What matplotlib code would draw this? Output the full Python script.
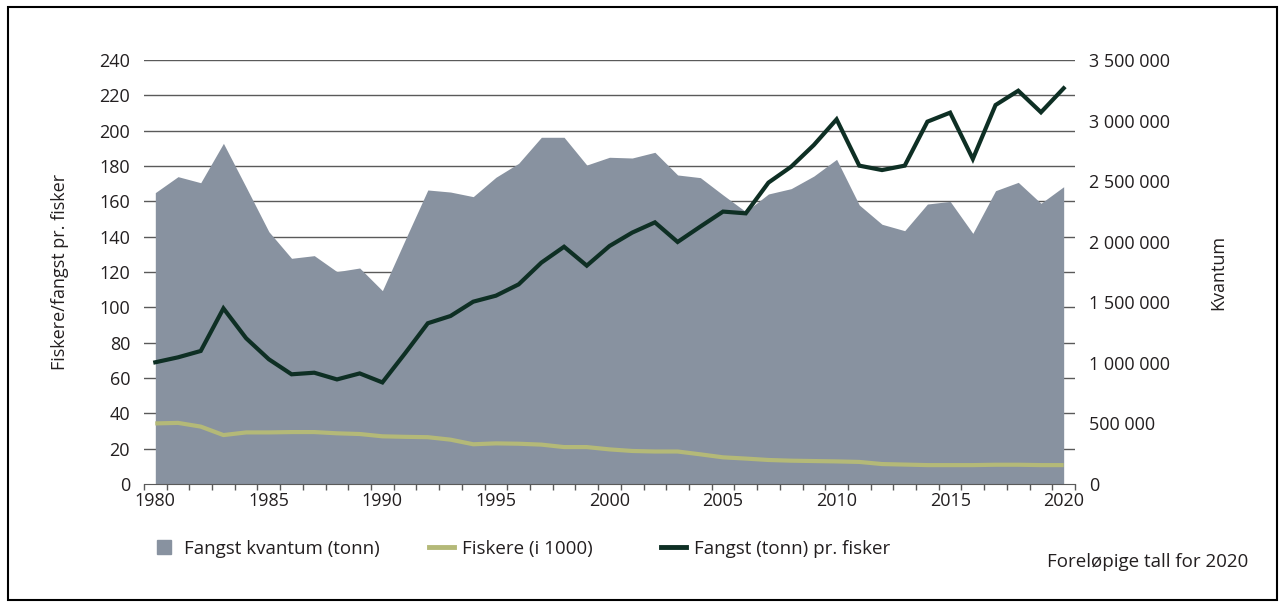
import matplotlib.pyplot as plt
from matplotlib.lines import Line2D
from matplotlib.patches import Rectangle
from matplotlib.ticker import FuncFormatter, MultipleLocator

plt.rcParams['font.family'] = ['Open Sans', 'DejaVu Sans']

# Data
years = list(range(1980, 2021))

kvantum = [
    2405000, 2537000, 2487000, 2812000, 2450000, 2083000, 1863000, 1885000,
    1753000, 1783000, 1596000, 2014000, 2427000, 2410000, 2372000, 2532000,
    2647000, 2862000, 2862000, 2633000, 2697000, 2691000, 2738000, 2551000,
    2529000, 2386000, 2248000, 2394000, 2438000, 2542000, 2680000, 2303000,
    2144000, 2091000, 2311000, 2333000, 2069000, 2421000, 2490000, 2317000,
    2454000,
]

fiskere = [
    34.3, 34.6, 32.5, 27.7, 29.2, 29.2, 29.4, 29.4, 28.7, 28.3,
    27.0, 26.7, 26.5, 25.1, 22.5, 23.0, 22.8, 22.3, 20.9, 20.9,
    19.6, 18.7, 18.4, 18.4, 16.8, 15.1, 14.4, 13.6, 13.2, 13.0,
    12.8, 12.5, 11.3, 11.0, 10.7, 10.7, 10.7, 10.9, 10.9, 10.7,
    10.7,
]

per_fisker = [
    68.9, 71.7, 75.3, 99.4, 82.5, 70.6, 62.1, 63.0, 59.2, 62.6,
    57.5, 74.0, 91.0, 95.1, 103.2, 106.6, 113.0, 125.3, 134.3, 123.6,
    134.7, 142.3, 148.1, 137.0, 145.7, 154.2, 153.2, 170.6, 179.6, 191.9,
    206.4, 180.2, 177.7, 180.2, 205.1, 210.2, 184.0, 214.5, 222.6, 210.4,
    224.0,
]

c_area = '#8892a0'
c_fisk = '#b4b978'
c_per = '#0e2f24'
c_text = '#231f20'
c_grid = '#5a5a5a'
fs = 13

fig = plt.figure(figsize=(12.83, 6.06), dpi=100)
ax = fig.add_axes([0.1122, 0.2013, 0.7257, 0.6997])

# bottom layer: gridlines + left labels
ax.set_xlim(1979.5, 2020.5)
ax.set_ylim(0, 240)
ax.set_yticks(range(0, 241, 20))
for v in range(20, 241, 20):
    ax.axhline(v, color=c_grid, lw=1, zorder=0)
for s in ax.spines.values():
    s.set_visible(False)
ax.tick_params(axis='y', length=0, pad=10, labelsize=fs, colors=c_text)
ax.set_xticks(range(1980, 2021, 5))
ax.xaxis.set_minor_locator(MultipleLocator(1, offset=0.5))
ax.tick_params(axis='x', which='major', length=0, pad=6, labelsize=fs, colors=c_text)
ax.tick_params(axis='x', which='minor', length=4, width=1, color=c_grid, direction='out')
ax.set_ylabel('Fiskere/fangst pr. fisker', fontsize=fs, color=c_text, labelpad=22)

# middle layer: area (right axis)
ax2 = ax.twinx()
ax2.fill_between(years, kvantum, 0, color=c_area, lw=0)
ax2.set_ylim(0, 3500000)
ax2.set_yticks(range(0, 3500001, 500000))
ax2.yaxis.set_major_formatter(FuncFormatter(lambda v, p: f"{int(v):,}".replace(",", " ")))
ax2.tick_params(axis='y', length=0, pad=10, labelsize=fs, colors=c_text)
for s in ax2.spines.values():
    s.set_visible(False)
ax2.set_ylabel('Kvantum', fontsize=fs, color=c_text, labelpad=28)

# top layer: lines (left axis)
ax3 = ax.twinx()
ax3.set_ylim(0, 240)
ax3.set_yticks([])
ax3.plot(years, fiskere, color=c_fisk, lw=3, solid_capstyle='butt')
ax3.plot(years, per_fisker, color=c_per, lw=3, solid_joinstyle='miter')
for k, s in ax3.spines.items():
    s.set_visible(k == 'bottom')
ax3.spines['bottom'].set_color(c_grid)

# legend, one entry at a time so each sits where the reference has it
handles = [
    Line2D([], [], marker='s', ls='none', color=c_area, markersize=10),
    Line2D([], [], color=c_fisk, lw=3.5),
    Line2D([], [], color=c_per, lw=3.5),
]
labels = ['Fangst kvantum (tonn)', 'Fiskere (i 1000)', 'Fangst (tonn) pr. fisker']
left_px = [151, 429, 661]
for h, lab, xp in zip(handles, labels, left_px):
    fig.legend([h], [lab], loc='center left', bbox_to_anchor=(xp / 1283, 1 - 549 / 606),
               frameon=False, fontsize=13.5, handlelength=1.35,
               handletextpad=0.4, borderpad=0, borderaxespad=0, labelcolor=c_text)

fig.text(1248 / 1283, 1 - 562 / 606, 'Foreløpige tall for 2020', ha='right', va='center',
         fontsize=13.5, color=c_text)

fig.patches.append(Rectangle((0.006, 0.01), 0.989, 0.978, transform=fig.transFigure,
                             fill=False, edgecolor='black', lw=1.5))

fig.savefig('out.png', dpi=100)
